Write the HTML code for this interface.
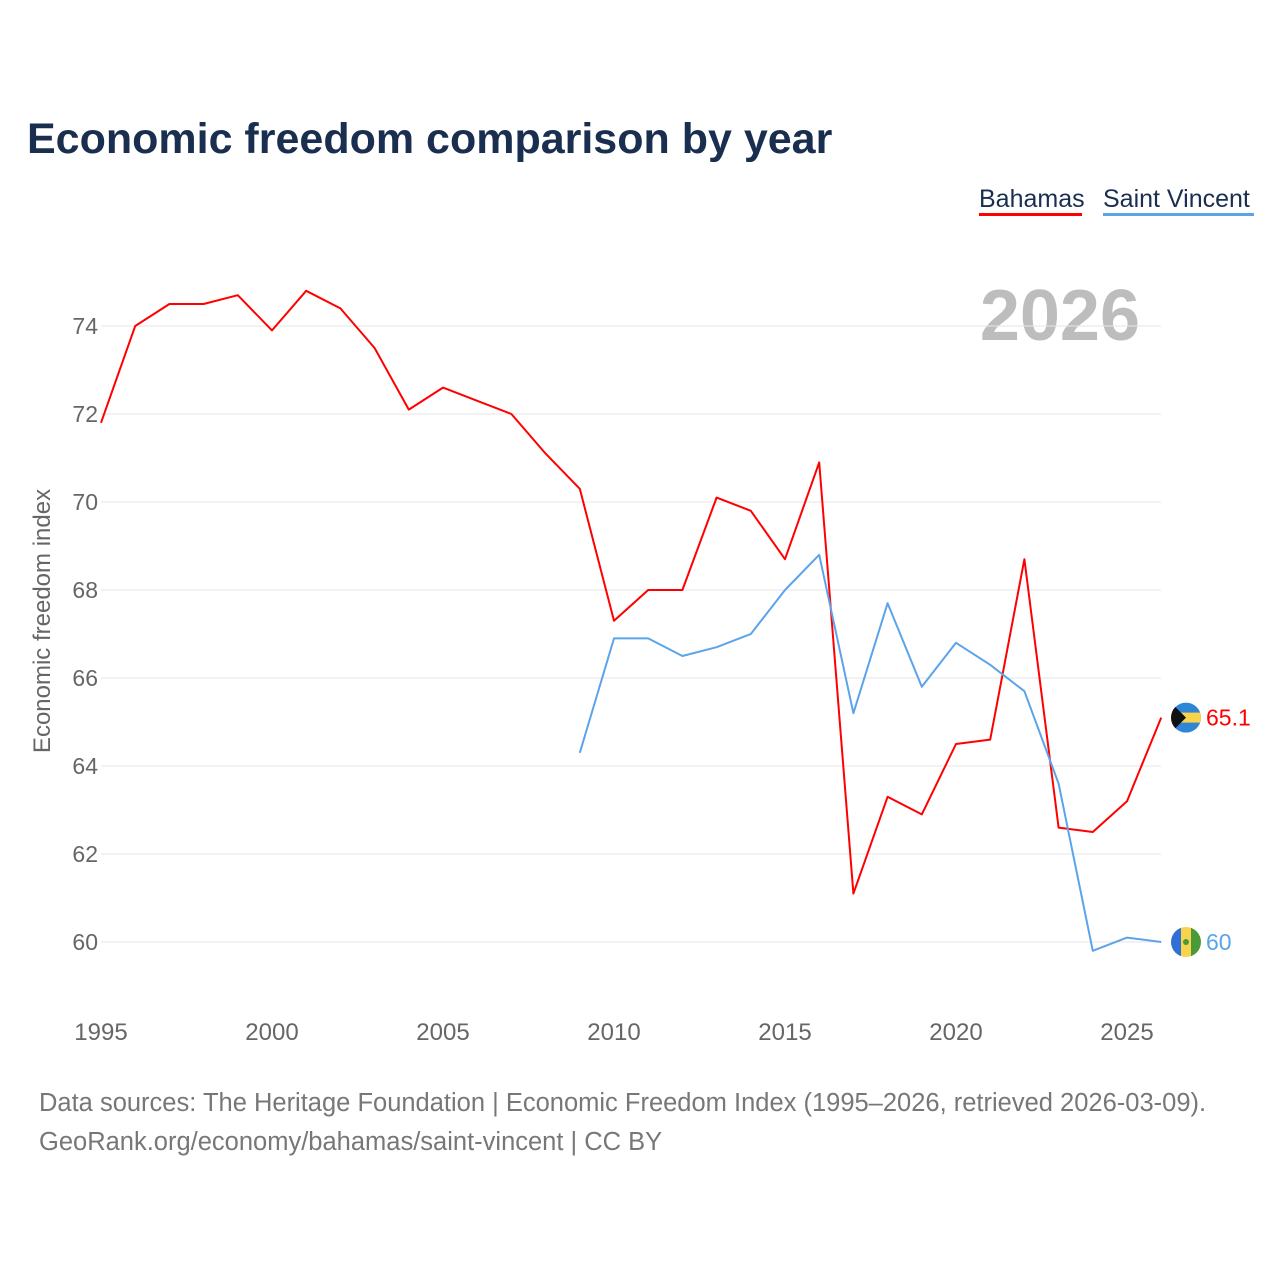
<!DOCTYPE html>
<html><head><meta charset="utf-8"><style>
body{margin:0;background:#fff;font-family:"Liberation Sans",sans-serif;}
</style></head><body>
<svg id="chart" width="1280" height="1280" xmlns="http://www.w3.org/2000/svg">
<text x="27" y="153" font-size="43" font-weight="bold" fill="#1a2e4f">Economic freedom comparison by year</text>
<g>
<text x="979" y="207" font-size="25" fill="#1a2e4f">Bahamas</text>
<rect x="979" y="213" width="103" height="3" fill="#ff0000"/>
<text x="1103" y="207" font-size="25" fill="#1a2e4f">Saint Vincent</text>
<rect x="1103" y="213" width="151" height="3" fill="#5ba4ea"/>
</g>
<text x="1140" y="340" font-size="72" font-weight="bold" fill="#bdbdbd" text-anchor="end">2026</text>
<text transform="translate(50,621) rotate(-90)" font-size="24" fill="#666" text-anchor="middle">Economic freedom index</text>
<g id="grid"></g><g id="series"></g>
<text x="39" y="1111" font-size="25.5" fill="#777">Data sources: The Heritage Foundation | Economic Freedom Index (1995–2026, retrieved 2026-03-09).</text>
<text x="39" y="1150" font-size="25.5" fill="#777">GeoRank.org/economy/bahamas/saint-vincent | CC BY</text>
</svg>
<script>
const years=[1995,1996,1997,1998,1999,2000,2001,2002,2003,2004,2005,2006,2007,2008,2009,2010,2011,2012,2013,2014,2015,2016,2017,2018,2019,2020,2021,2022,2023,2024,2025,2026];
const bahamas=[71.8,74.0,74.5,74.5,74.7,73.9,74.8,74.4,73.5,72.1,72.6,72.3,72.0,71.1,70.3,67.3,68.0,68.0,70.1,69.8,68.7,70.9,61.1,63.3,62.9,64.5,64.6,68.7,62.6,62.5,63.2,65.1];
const svYears=[2009,2010,2011,2012,2013,2014,2015,2016,2017,2018,2019,2020,2021,2022,2023,2024,2025,2026];
const saintVincent=[64.3,66.9,66.9,66.5,66.7,67.0,68.0,68.8,65.2,67.7,65.8,66.8,66.3,65.7,63.6,59.8,60.1,60.0];
const yTicks=[60,62,64,66,68,70,72,74];
const xTicks=[1995,2000,2005,2010,2015,2020,2025];
const NS="http://www.w3.org/2000/svg";
const xs=y=>101+(y-1995)*(1127-101)/30;
const ys=v=>942-(v-60)*44;
const grid=document.getElementById('grid'),ser=document.getElementById('series');
function mk(tag,attrs,parent){const e=document.createElementNS(NS,tag);for(const k in attrs)e.setAttribute(k,attrs[k]);parent.appendChild(e);return e;}
yTicks.forEach(t=>{
 const l=mk('line',{x1:101,x2:1161,y1:ys(t),y2:ys(t),stroke:'#e6e6e6','stroke-width':1},grid);
 
 
 const tx=mk('text',{x:98,y:ys(t)+8,'font-size':23,fill:'#666','text-anchor':'end'},grid);tx.textContent=t;
 
 
});
xTicks.forEach(t=>{
 const tx=mk('text',{x:xs(t),y:1040,'font-size':24,fill:'#666','text-anchor':'middle'},grid);tx.textContent=t;
 
 
});
function line(xv,vals,color,name){
 const p=mk('polyline',{points:vals.map((v,i)=>xs(xv[i])+','+ys(v)).join(' '),fill:'none',stroke:color,'stroke-width':2,'stroke-linejoin':'round'},ser);
 
 
}
line(years,bahamas,'#ff0000','bahamas-line');
line(svYears,saintVincent,'#5ba4ea','saint-vincent-line');
const bv=bahamas[bahamas.length-1],sv=saintVincent[saintVincent.length-1];
const cx=1186;
let g=mk('g',{},ser);


const cb=mk('clipPath',{id:'cb'},g);mk('circle',{cx:cx,cy:ys(bv),r:15},cb);
const gb=mk('g',{'clip-path':'url(#cb)'},g);
mk('rect',{x:cx-15,y:ys(bv)-15,width:30,height:30,fill:'#2f86d6'},gb);
mk('rect',{x:cx-15,y:ys(bv)-5,width:30,height:10,fill:'#f8d44c'},gb);
mk('polygon',{points:`${cx-15},${ys(bv)-15} ${cx},${ys(bv)} ${cx-15},${ys(bv)+15}`,fill:'#111'},gb);
let t1=mk('text',{x:1206,y:ys(bv)+8,'font-size':23,fill:'#ff0000'},ser);t1.textContent=bv;


g=mk('g',{},ser);


const cp=mk('clipPath',{id:'cs'},g);mk('circle',{cx:cx,cy:ys(sv),r:15},cp);
const gs=mk('g',{'clip-path':'url(#cs)'},g);
mk('rect',{x:cx-15,y:ys(sv)-15,width:10,height:30,fill:'#2f6fd6'},gs);
mk('rect',{x:cx-5,y:ys(sv)-15,width:10,height:30,fill:'#f8d44c'},gs);
mk('rect',{x:cx+5,y:ys(sv)-15,width:10,height:30,fill:'#4a9a3a'},gs);
mk('circle',{cx:cx,cy:ys(sv),r:3,fill:'#4a9a3a'},gs);
let t2=mk('text',{x:1206,y:ys(sv)+8,'font-size':23,fill:'#5ba4ea'},ser);t2.textContent=sv;


</script>
</body></html>
